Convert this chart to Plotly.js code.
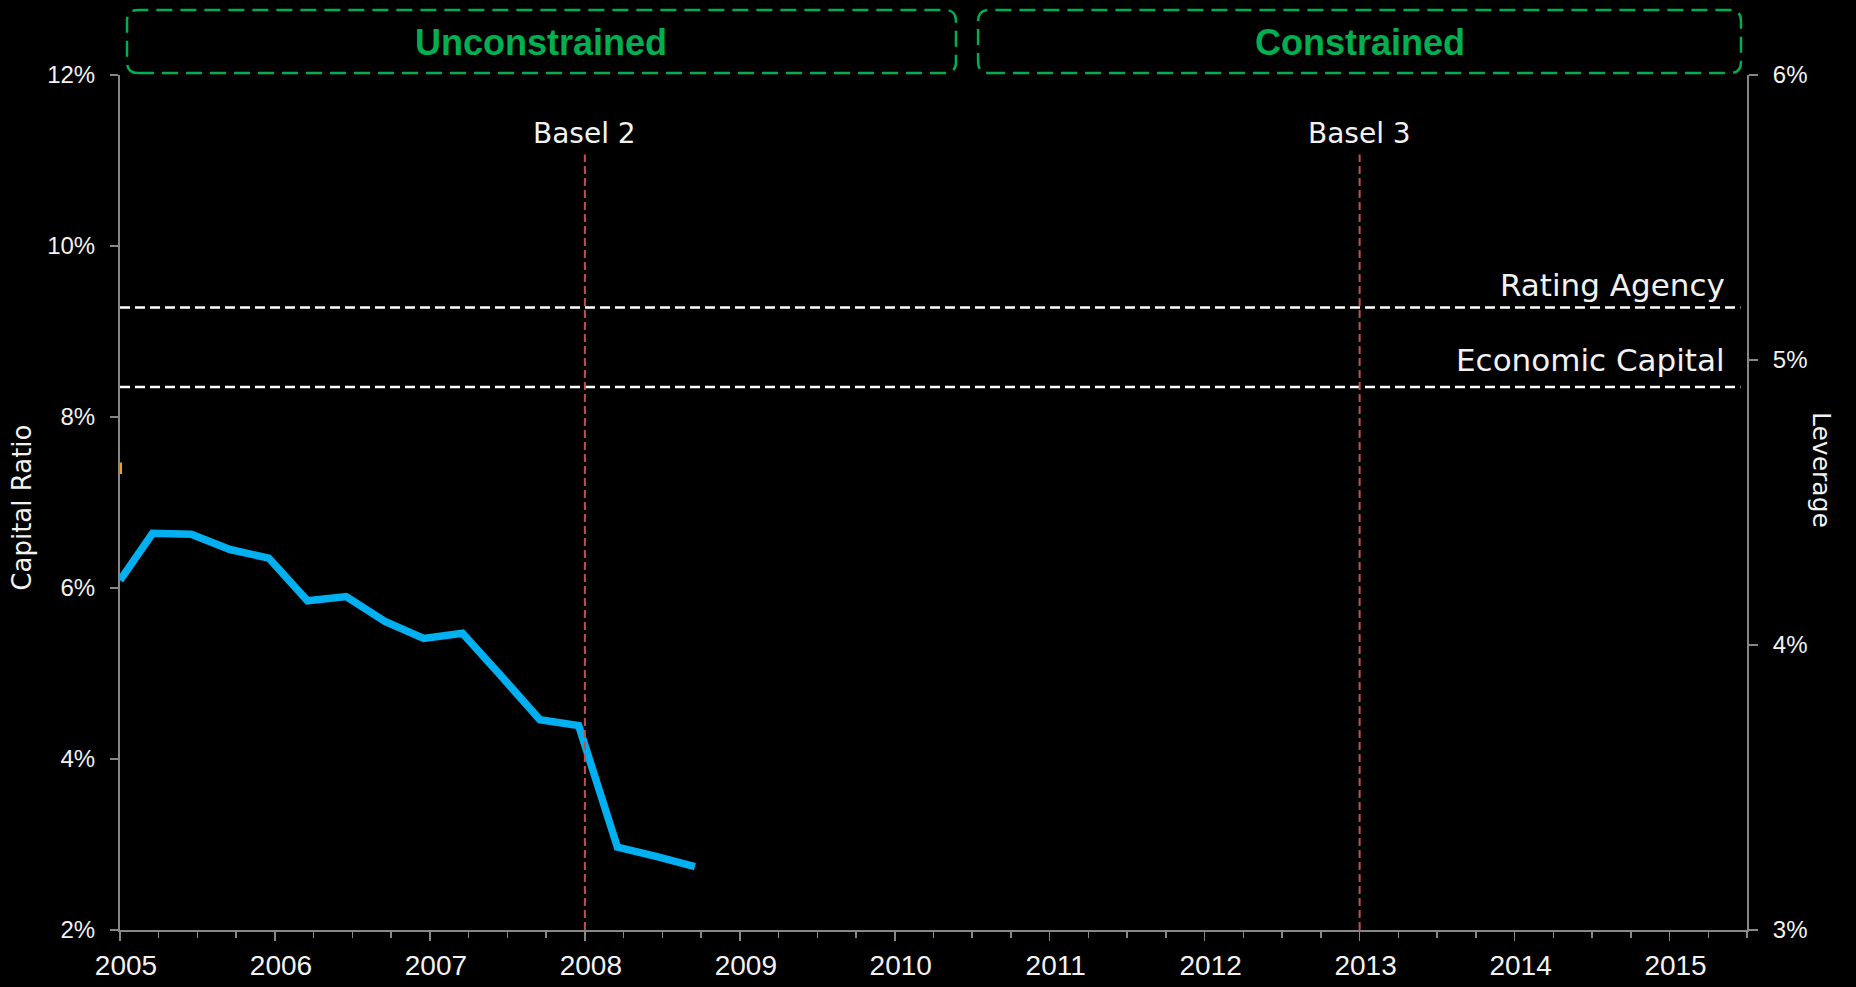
<!DOCTYPE html>
<html>
<head>
<meta charset="utf-8">
<script src="https://cdn.plot.ly/plotly-3.0.1.min.js"></script>
<style>
  html, body { margin: 0; padding: 0; background: #000; }
  #chart { width: 1856px; height: 987px; }
</style>
</head>
<body>
<div id="chart"></div>
<script>
// ---- Data ----
// Capital ratio, quarterly (decimal year positions)
const capitalDates = [2005.0, 2005.21, 2005.46, 2005.71, 2005.96, 2006.21, 2006.46, 2006.71,
                      2006.96, 2007.21, 2007.46, 2007.71, 2007.96, 2008.21, 2008.46, 2008.71];
const capitalRatio = [6.09, 6.64, 6.63, 6.45, 6.35, 5.85, 5.90, 5.61,
                      5.41, 5.47, 4.97, 4.46, 4.39, 2.97, 2.86, 2.74];
// Leverage series: only a sliver is visible at the left edge of the chart
const leverageDates = [2005.0, 2005.0];
const leverage = [4.60, 4.64];
// Threshold levels on the capital ratio axis
const ratingAgencyLevel = 9.28;
const economicCapitalLevel = 8.35;
// Regulatory events
const eventYears = [2008, 2013];
const eventLabels = ['Basel 2', 'Basel 3'];
// Regime labels
const regimeLabels = ['Unconstrained', 'Constrained'];
// Axis ticks
const yearTicks = [2005, 2006, 2007, 2008, 2009, 2010, 2011, 2012, 2013, 2014, 2015];
const leftTicks = [2, 4, 6, 8, 10, 12];
const leftTickText = ['2%', '4%', '6%', '8%', '10%', '12%'];
const rightTicks = [3, 4, 5, 6];
const rightTickText = ['3%', '4%', '5%', '6%'];

// ---- Layout constants ----
const W = 1856, H = 987;
const M = { l: 120, r: 109, t: 75, b: 57 };
const plotW = W - M.l - M.r, plotH = H - M.t - M.b;
const axisGrey = '#878787';
const txt = '#F2F2F2';
const green = '#00B050';
const red = '#C0504D';
const textFont = 'DejaVu Sans, Liberation Sans, sans-serif';
const tickFont = 'Liberation Sans, Arial, sans-serif';

function roundedRect(x0, x1, y0, y1, rPx) {
  const rx = rPx / plotW, ry = rPx / plotH;
  return `M ${x0 + rx},${y0} L ${x1 - rx},${y0} Q ${x1},${y0} ${x1},${y0 + ry} ` +
         `L ${x1},${y1 - ry} Q ${x1},${y1} ${x1 - rx},${y1} L ${x0 + rx},${y1} ` +
         `Q ${x0},${y1} ${x0},${y1 - ry} L ${x0},${y0 + ry} Q ${x0},${y0} ${x0 + rx},${y0} Z`;
}

const boxes = [
  { x0: 0.0043, x1: 0.5138 },
  { x0: 0.5274, x1: 0.9963 }
];
const boxY0 = 1.0023, boxY1 = 1.076;

const traces = [
  {
    x: capitalDates, y: capitalRatio, type: 'scatter', mode: 'lines',
    name: 'Capital Ratio', line: { color: '#00B0F0', width: 7.5 },
    hoverinfo: 'skip', showlegend: false
  },
  {
    x: leverageDates, y: leverage, type: 'scatter', mode: 'lines',
    name: 'Leverage', yaxis: 'y2', line: { color: '#F0A30A', width: 4 },
    hoverinfo: 'skip', showlegend: false
  }
];

const shapes = [];
// threshold lines
[ratingAgencyLevel, economicCapitalLevel].forEach(v => {
  shapes.push({ type: 'line', xref: 'paper', yref: 'y', x0: 0, x1: 0.996, y0: v, y1: v,
    line: { color: '#FFFFFF', width: 2.5, dash: '10px,5px' } });
});
// event lines
eventYears.forEach(yr => {
  shapes.push({ type: 'line', xref: 'x', yref: 'y', x0: yr, x1: yr, y0: 2, y1: 11.07,
    line: { color: red, width: 2, dash: '8px,4px' } });
});
// regime boxes
boxes.forEach(b => {
  shapes.push({ type: 'path', xref: 'paper', yref: 'paper',
    path: roundedRect(b.x0, b.x1, boxY0, boxY1, 11),
    line: { color: green, width: 2.5, dash: '16px,8px' } });
});

const annotations = [];
eventYears.forEach((yr, i) => {
  annotations.push({ x: yr, y: 11.32, xref: 'x', yref: 'y', text: eventLabels[i],
    showarrow: false, xanchor: 'center', yanchor: 'middle',
    font: { family: textFont, size: 28, color: txt } });
});
annotations.push({ x: 0.9877, y: 9.54, xref: 'paper', yref: 'y', text: 'Rating Agency',
  showarrow: false, xanchor: 'right', yanchor: 'middle',
  font: { family: textFont, size: 31, color: txt } });
annotations.push({ x: 0.9877, y: 8.67, xref: 'paper', yref: 'y', text: 'Economic Capital',
  showarrow: false, xanchor: 'right', yanchor: 'middle',
  font: { family: textFont, size: 31, color: txt } });
boxes.forEach((b, i) => {
  annotations.push({ x: (b.x0 + b.x1) / 2, y: 1.0379, xref: 'paper', yref: 'paper',
    text: '<b>' + regimeLabels[i] + '</b>', showarrow: false,
    xanchor: 'center', yanchor: 'middle',
    font: { family: tickFont, size: 36, color: green } });
});
annotations.push({ x: -0.0602, y: 0.494, xref: 'paper', yref: 'paper', text: 'Capital Ratio',
  showarrow: false, textangle: -90, xanchor: 'center', yanchor: 'middle',
  font: { family: textFont, size: 26, color: txt } });
annotations.push({ x: 1.0461, y: 0.538, xref: 'paper', yref: 'paper', text: 'Leverage',
  showarrow: false, textangle: 90, xanchor: 'center', yanchor: 'middle',
  font: { family: textFont, size: 25, color: txt } });

const layout = {
  width: W, height: H,
  margin: M,
  paper_bgcolor: '#000000', plot_bgcolor: '#000000',
  showlegend: false,
  xaxis: {
    range: [2005, 2015.5], tickmode: 'array', tickvals: yearTicks,
    ticktext: yearTicks.map(String),
    showgrid: false, zeroline: false, showline: true, linecolor: axisGrey, linewidth: 2,
    ticks: 'outside', ticklen: 9, tickcolor: axisGrey, tickwidth: 1.5,
    ticklabelshift: 6,
    minor: { tickmode: 'linear', tick0: 2005, dtick: 0.25, ticks: 'outside', ticklen: 6,
             tickcolor: axisGrey, tickwidth: 1.5, showgrid: false },
    tickfont: { family: tickFont, size: 28, color: txt }
  },
  yaxis: {
    range: [2, 12], tickmode: 'array', tickvals: leftTicks, ticktext: leftTickText,
    showgrid: false, zeroline: false, showline: true, linecolor: axisGrey, linewidth: 2,
    ticks: 'outside', ticklen: 8, tickcolor: axisGrey, tickwidth: 1.5,
    ticklabelstandoff: 10,
    tickfont: { family: tickFont, size: 24, color: txt }
  },
  yaxis2: {
    range: [3, 6], tickmode: 'array', tickvals: rightTicks, ticktext: rightTickText,
    overlaying: 'y', side: 'right',
    showgrid: false, zeroline: false, showline: true, linecolor: axisGrey, linewidth: 2,
    ticks: 'outside', ticklen: 9, tickcolor: axisGrey, tickwidth: 1.5,
    ticklabelstandoff: 10,
    tickfont: { family: tickFont, size: 24, color: txt }
  },
  shapes: shapes,
  annotations: annotations
};

Plotly.newPlot('chart', traces, layout, { displayModeBar: false, staticPlot: true });
</script>
</body>
</html>
